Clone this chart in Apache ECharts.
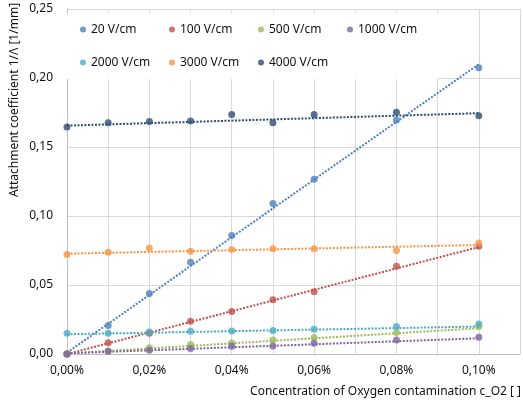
<!DOCTYPE html>
<html>
<head>
<meta charset="utf-8">
<script src="https://cdn.jsdelivr.net/npm/echarts@6/dist/echarts.min.js"></script>
<style>
    html, body { margin: 0; padding: 0; background: #fff; }
    #chart { width: 523px; height: 403px; }
</style>
</head>
<body>
<div id="chart"></div>
<script>
// oxygen concentration in % (0.07 and 0.09 were not measured)
const xs = [0, 0.01, 0.02, 0.03, 0.04, 0.05, 0.06, 0.08, 0.10]
const names = ['20 V/cm', '100 V/cm', '500 V/cm', '1000 V/cm', '2000 V/cm', '3000 V/cm', '4000 V/cm']
const colors = ['#4f81bd', '#c0504d', '#9bbb59', '#8064a2', '#4bacc6', '#f79646', '#2c4d75']

// attachment coefficient 1/lambda [1/mm]
const v20   = [0, 0.0206, 0.0439, 0.0665, 0.0859, 0.1090, 0.1266, 0.1696, 0.2075]
const v100  = [0, 0.0082, 0.0150, 0.0238, 0.0308, 0.0393, 0.0451, 0.0636, 0.0781]
const v500  = [0, 0.0022, 0.0046, 0.0068, 0.0080, 0.0102, 0.0119, 0.0155, 0.0199]
const v1000 = [0, 0.0020, 0.0027, 0.0039, 0.0056, 0.0058, 0.0078, 0.0102, 0.0121]
const v2000 = [0.0150, 0.0150, 0.0160, 0.0165, 0.0167, 0.0170, 0.0179, 0.0199, 0.0218]
const v3000 = [0.0721, 0.0738, 0.0769, 0.0745, 0.0757, 0.0762, 0.0762, 0.0750, 0.0805]
const v4000 = [0.1645, 0.1676, 0.1684, 0.1689, 0.1735, 0.1676, 0.1735, 0.1752, 0.1727]
const values = [v20, v100, v500, v1000, v2000, v3000, v4000]

// linear trendlines, value at x = 0 and x = 0.10
const trendX = [0, 0.10]
const trendStart = [0.0010, 0.0000, 0.0004, 0.0005, 0.0143, 0.0727, 0.1655]
const trendEnd   = [0.2100, 0.0775, 0.0187, 0.0114, 0.0199, 0.0790, 0.1745]

const xTicks = [0, 0.02, 0.04, 0.06, 0.08, 0.10]
const font = 'Noto Sans'

function comma(v, d){
    return v.toFixed(d).replace('.', ',')
}

function pairs(ys){
    let out = []
    for(let i=0; i<xs.length; i++)
        out.push([xs[i], ys[i]])
    return out
}

let series = []
// trendlines first so the points sit on top
for(let i=0; i<names.length; i++){
    series.push({
        name: names[i] + ' trend',
        type: 'line',
        data: [[trendX[0], trendStart[i]], [trendX[1], trendEnd[i]]],
        showSymbol: false,
        symbol: 'none',
        silent: true,
        z: 2,
        lineStyle: { color: colors[i], width: 2, type: [2, 1.5] }
    })
}
for(let i=0; i<names.length; i++){
    series.push({
        name: names[i],
        type: 'scatter',
        data: pairs(values[i]),
        symbolSize: 7,
        z: 3,
        itemStyle: { color: colors[i] }
    })
}

const chart = echarts.init(document.getElementById('chart'))
chart.setOption({
    animation: false,
    backgroundColor: '#fff',
    textStyle: { fontFamily: font },
    grid: { left: 67, right: 1, top: 9, bottom: 49 },
    legend: {
        data: names,
        left: 67,
        top: 13,
        width: 360,
        padding: [4, 10, 4, 13],
        backgroundColor: '#fff',
        itemWidth: 6,
        itemHeight: 6,
        itemGap: 8,
        icon: 'circle',
        z: 5,
        textStyle: { fontFamily: font, fontSize: 12, color: '#111', width: 70, lineHeight: 25 }
    },
    xAxis: {
        type: 'value',
        min: 0,
        max: 0.11,
        interval: 0.01,
        axisLine: { show: true, lineStyle: { color: '#bfbfbf', width: 1 } },
        axisTick: { show: false },
        splitLine: { show: true, lineStyle: { color: '#d9d9d9', width: 1 } },
        axisLabel: {
            margin: 11,
            color: '#111',
            fontFamily: font,
            fontSize: 12,
            formatter: function(v){
                const r = Math.round(v * 100) / 100
                for(let i=0; i<xTicks.length; i++)
                    if(Math.abs(xTicks[i] - r) < 1e-9) return comma(r, 2) + '%'
                return ''
            }
        }
    },
    yAxis: {
        type: 'value',
        min: 0,
        max: 0.25,
        interval: 0.05,
        axisLine: { show: true, lineStyle: { color: '#bfbfbf', width: 1 } },
        axisTick: { show: false },
        splitLine: { show: true, lineStyle: { color: '#d9d9d9', width: 1 } },
        axisLabel: {
            margin: 14,
            color: '#111',
            fontFamily: font,
            fontSize: 12,
            formatter: function(v){ return comma(v, 2) }
        }
    },
    graphic: [
        {
            type: 'text',
            x: 15,
            y: 100,
            rotation: Math.PI / 2,
            style: {
                text: 'Attachment coefficient 1/Λ [1/mm]',
                font: '12px "Noto Sans"',
                fill: '#111',
                align: 'center',
                verticalAlign: 'middle'
            }
        },
        {
            type: 'text',
            x: 521,
            y: 392,
            style: {
                text: 'Concentration of Oxygen contamination c_O2 [ ]',
                font: '12px "Noto Sans"',
                fill: '#111',
                align: 'right',
                verticalAlign: 'middle'
            }
        }
    ],
    series: series
})
</script>
</body>
</html>
